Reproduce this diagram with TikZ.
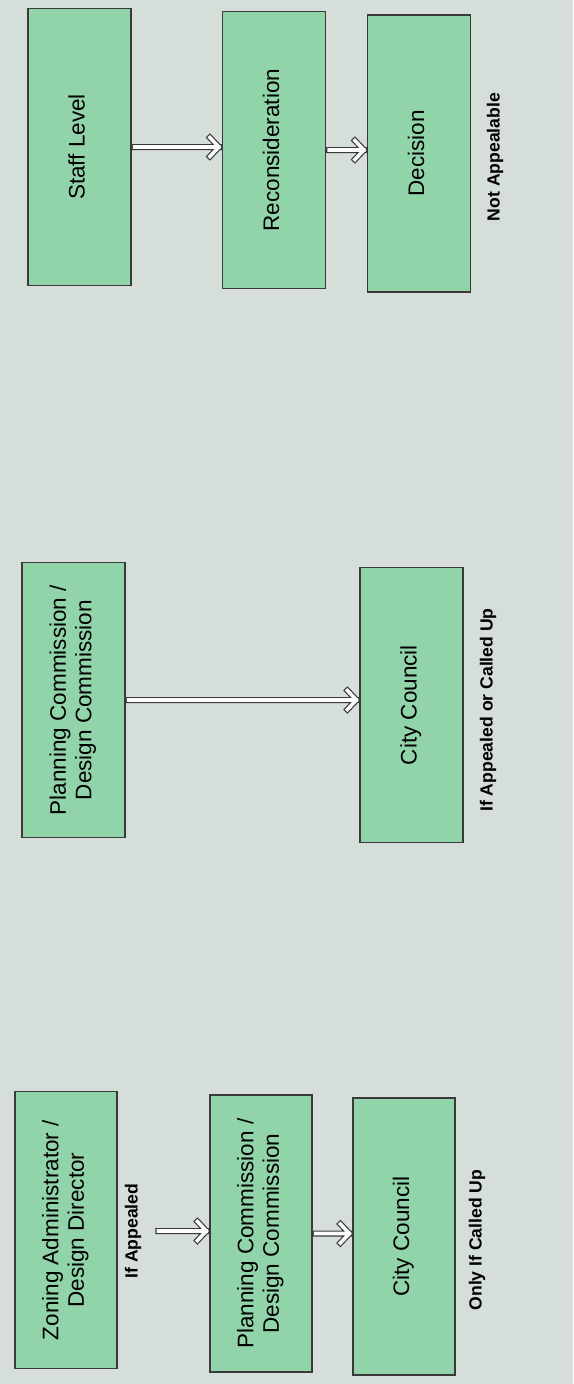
\documentclass[tikz,border=0pt]{standalone}
\usepackage{fontspec}
\setmainfont{Liberation Sans}
\usepackage{graphicx}
\definecolor{bgcol}{HTML}{D6DED9}
\definecolor{boxfill}{HTML}{92D4A9}
\definecolor{edgecol}{HTML}{3A3A3A}
\begin{document}
\begin{tikzpicture}[x=1pt,y=-1pt,
  stagebox/.style={draw=edgecol, line width=1.2pt, fill=boxfill, inner sep=0pt,
    minimum width=103pt, minimum height=277pt},
  note/.style={inner sep=0pt},
  arr/.style={draw=edgecol, line width=1.2pt, double=white!90!bgcol, double distance=3.6pt,
    line cap=rect, line join=miter}]
\fill[bgcol] (0,0) rectangle (573,1384);
\useasboundingbox (0,0) rectangle (573,1384);
\newcommand{\boxtxt}[1]{\rotatebox{90}{\fontsize{22.5}{25.5}\selectfont\begin{tabular}{@{}c@{}}#1\end{tabular}}}
\newcommand{\notetxt}[1]{\rotatebox{90}{\fontsize{17.6}{20}\selectfont\bfseries #1}}
% double arrow with hollow chevron head: start, tip
\newcommand{\dblarrow}[2]{\draw[arr] (#1) -- (#2) coordinate (tipc) ++(-9,-9.5) -- (tipc) -- ++(-9,9.5);}
% top row
\node[stagebox] (staff) at (79.5,147) {\boxtxt{Staff Level}};
\node[stagebox] (recon) at (274,150) {\boxtxt{Reconsideration}};
\node[stagebox] (decis) at (419,153.5) {\boxtxt{Decision}};
\node[note] (notapp) at (495,157) {\notetxt{Not Appealable}};
% middle row
\node[stagebox, minimum height=275pt] (pc1) at (73.5,700) {\boxtxt{Planning Commission /\\Design Commission}};
\node[stagebox, minimum height=275pt] (cc1) at (411.5,705) {\boxtxt{City Council}};
\node[note] (ifac) at (488,710) {\notetxt{If Appealed or Called Up}};
% bottom row
\node[stagebox, minimum width=102pt] (zon) at (66,1230) {\boxtxt{Zoning Administrator /\\Design Director}};
\node[note] (ifapp) at (133,1231) {\notetxt{If Appealed}};
\node[stagebox, minimum width=102pt] (pc2) at (261,1233.5) {\boxtxt{Planning Commission /\\Design Commission}};
\node[stagebox, minimum width=102pt] (cc2) at (404,1236.5) {\boxtxt{City Council}};
\node[note] (only) at (477,1240) {\notetxt{Only If Called Up}};
% arrows
\dblarrow{[xshift=3pt]staff.east}{[xshift=-3pt]staff.east -| recon.west}
\dblarrow{[xshift=3pt]recon.east}{[xshift=-3pt]recon.east -| decis.west}
\dblarrow{[xshift=3pt]pc1.east}{[xshift=-3pt]pc1.east -| cc1.west}
\dblarrow{[xshift=17pt]ifapp.east}{[xshift=-3pt]ifapp.east -| pc2.west}
\dblarrow{[xshift=3pt]pc2.east}{[xshift=-3pt]pc2.east -| cc2.west}
\end{tikzpicture}
\end{document}
